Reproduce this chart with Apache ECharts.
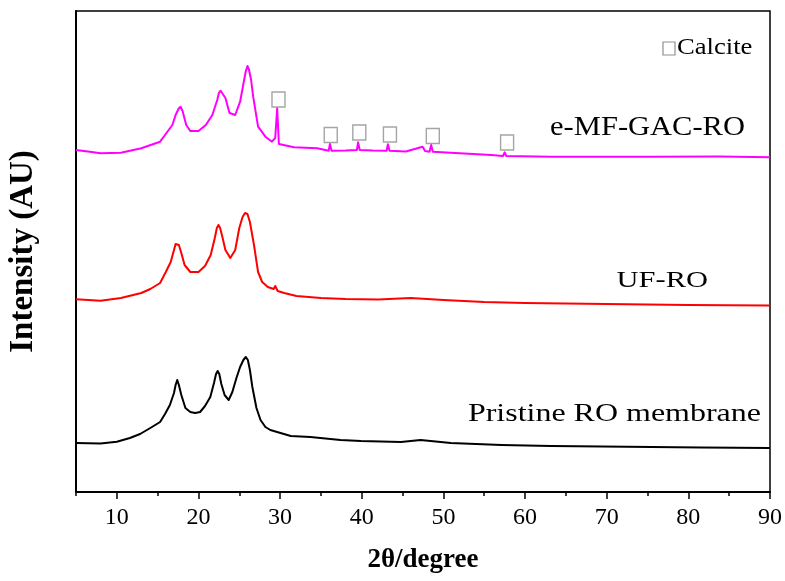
<!DOCTYPE html>
<html><head><meta charset="utf-8">
<script src="https://cdn.jsdelivr.net/npm/echarts@6/dist/echarts.min.js"></script>
<style>html,body{margin:0;padding:0;background:#fff}#c{width:785px;height:581px}</style>
</head><body><div id="c"></div>
<script>
// ---- data (2θ in degrees, intensity in arbitrary units, offset per pattern) ----
const xMajorTicks = [10, 20, 30, 40, 50, 60, 70, 80, 90];
const xMinorTicks = [5, 15, 25, 35, 45, 55, 65, 75, 85];

const pristineX = [5, 8, 10, 11.6, 12.85, 14.1, 15.3, 15.9, 16.5, 17.0, 17.2, 17.4, 17.6, 17.9, 18.4, 19.0, 19.6, 20.2, 20.8, 21.45, 21.9, 22.15, 22.35, 22.55, 22.8, 23.2, 23.7, 24.15, 24.65, 25.1, 25.5, 25.8, 26.05, 26.3, 26.6, 27.1, 27.6, 28.2, 28.8, 30.05, 31.3, 33.7, 37.4, 39.9, 44.8, 47.2, 50.9, 57.1, 63.2, 69.4, 75.5, 81.6, 90];
const pristineY = [49, 48.5, 50.3, 54, 58, 64, 70, 78, 87, 99, 107, 112, 107, 97, 84, 80, 79, 80, 86, 95, 109, 118, 121, 118, 108, 97, 92, 100, 114, 125, 132, 135, 132, 122, 105, 84, 72, 65, 62, 59, 56, 55, 52, 51, 50, 52, 49, 47, 46, 45.5, 45, 44.5, 44];

const ufroX = [5, 8, 10.5, 13, 14.1, 15.3, 16.0, 16.6, 17.0, 17.2, 17.4, 17.6, 17.9, 18.3, 19.0, 20.0, 20.8, 21.5, 22.0, 22.25, 22.45, 22.65, 22.9, 23.3, 23.9, 24.5, 25.0, 25.4, 25.7, 26.0, 26.3, 26.8, 27.3, 27.8, 28.5, 29.2, 29.4, 29.7, 30.5, 32, 35, 38, 42, 46, 50, 55, 60, 70, 80, 90];
const ufroY = [192.7, 191.3, 194, 199, 203, 209, 220, 230, 242, 248, 250, 247, 239, 227, 220, 220, 226, 237, 254, 264, 267, 264, 256, 242, 234, 242, 264, 275, 279, 278, 270, 247, 220, 210, 205, 203, 206, 201, 199, 196, 194, 193, 192.5, 194, 192, 190, 189, 188, 187, 186.5];

const emfX = [5, 6.7, 8, 10.5, 13, 15.3, 15.9, 16.8, 17.2, 17.55, 17.8, 18.05, 18.5, 19.0, 20.0, 20.9, 21.7, 22.3, 22.5, 22.7, 22.9, 23.3, 23.8, 24.5, 25.1, 25.5, 25.8, 26.0, 26.2, 26.45, 26.7, 27.3, 28.2, 29.0, 29.4, 29.64, 29.85, 30.05, 31.7, 34.55, 35.95, 36.1, 36.3, 38.0, 39.4, 39.55, 39.75, 41.35, 43.05, 43.2, 43.4, 45.4, 47.45, 47.75, 48.3, 48.5, 48.7, 50.9, 55.85, 57.3, 57.5, 57.7, 63.2, 75.5, 83.5, 83.7, 83.85, 90];
const emfY = [342, 340.3, 338.7, 339.3, 343.7, 350.3, 357, 367, 377, 383, 385.3, 381, 367, 361, 361, 367, 377, 392, 399, 401.3, 399, 394, 379, 377, 390.3, 408, 421, 426, 422, 412, 395.3, 365.3, 355.3, 350.3, 354, 383.7, 348, 347, 344.7, 343.7, 341.3, 348, 341.3, 341.5, 342, 349.7, 342, 341.5, 341.3, 347.7, 341.3, 340.5, 345.3, 341, 340.3, 347, 340.3, 339.3, 337, 336, 339.7, 336, 335.3, 335.3, 335.5, 337.5, 335.5, 334.7];

const calciteX = [29.8, 36.2, 39.7, 43.45, 48.7, 57.8];
const calciteY = [392.5, 357, 359.5, 357.5, 356, 349.5];

const seriesNames = ['Pristine RO membrane', 'UF-RO', 'e-MF-GAC-RO'];
// -------------------------------------------------------------------------------

const zip = (xs, ys) => xs.map((x, i) => [x, ys[i]]);
const FONT = "'Liberation Serif', 'Times New Roman', serif";

const chart = echarts.init(document.getElementById('c'), null, {renderer: 'canvas'});

const lineSeries = (name, xs, ys, color) => ({
  name, type: 'line', data: zip(xs, ys), showSymbol: false, smooth: false,
  lineStyle: {color, width: 2, join: 'round'}, z: 3, silent: true
});

chart.setOption({
  animation: false,
  backgroundColor: '#fff',
  grid: {left: 76, right: 15, top: 11, bottom: 89, containLabel: false, outerBoundsMode: 'none',
    show: true, borderColor: '#000', borderWidth: 1.5},
  xAxis: [{
    type: 'value', min: 5, max: 90,
    name: '2θ/degree', nameLocation: 'middle', nameGap: 55,
    nameTextStyle: {fontFamily: FONT, fontWeight: 'bold', fontSize: 27, color: '#000'},
    axisLine: {show: true, lineStyle: {color: '#000', width: 2}},
    axisTick: {show: true, inside: false, length: 7, lineStyle: {color: '#000', width: 1.5}, customValues: xMajorTicks},
    axisLabel: {show: true, fontFamily: FONT, fontSize: 24, color: '#000', margin: 14, customValues: xMajorTicks},
    splitLine: {show: false}
  }, {
    type: 'value', min: 5, max: 90, position: 'bottom',
    axisLine: {show: false},
    axisTick: {show: true, inside: false, length: 4, lineStyle: {color: '#000', width: 1.5}, customValues: xMinorTicks},
    axisLabel: {show: false},
    splitLine: {show: false}
  }],
  yAxis: {
    type: 'value', min: 0, max: 481,
    name: 'Intensity (AU)', nameLocation: 'middle', nameGap: 36,
    nameTextStyle: {fontFamily: FONT, fontWeight: 'bold', fontSize: 33, color: '#000'},
    axisLine: {show: true, lineStyle: {color: '#000', width: 2}},
    axisTick: {show: false}, axisLabel: {show: false}, splitLine: {show: false}
  },
  series: [
    lineSeries(seriesNames[0], pristineX, pristineY, '#000000'),
    lineSeries(seriesNames[1], ufroX, ufroY, '#ff0000'),
    lineSeries(seriesNames[2], emfX, emfY, '#ff00ff'),
    {
      name: 'Calcite', type: 'scatter', data: zip(calciteX, calciteY),
      symbol: 'rect', symbolSize: [13, 15], z: 4, silent: true,
      itemStyle: {color: 'rgba(255,255,255,0)', borderColor: '#8f8f8f', borderWidth: 1.5}
    }
  ],
  graphic: [
    {type: 'text', x: 745, y: 128, scaleX: 1.13, silent: true,
      style: {text: seriesNames[2], font: '27px ' + FONT, fill: '#000', textAlign: 'right', textVerticalAlign: 'middle'}},
    {type: 'text', x: 708, y: 280.5, scaleX: 1.27, silent: true,
      style: {text: seriesNames[1], font: '24px ' + FONT, fill: '#000', textAlign: 'right', textVerticalAlign: 'middle'}},
    {type: 'text', x: 761, y: 414.5, scaleX: 1.23, silent: true,
      style: {text: seriesNames[0], font: '26px ' + FONT, fill: '#000', textAlign: 'right', textVerticalAlign: 'middle'}},
    {type: 'rect', silent: true, shape: {x: 663, y: 42, width: 12, height: 13},
      style: {fill: 'none', stroke: '#8f8f8f', lineWidth: 1.2}},
    {type: 'text', x: 677, y: 48, scaleX: 1.11, silent: true,
      style: {text: 'Calcite', font: '24px ' + FONT, fill: '#000', textAlign: 'left', textVerticalAlign: 'middle'}}
  ]
});
</script>
</body></html>
